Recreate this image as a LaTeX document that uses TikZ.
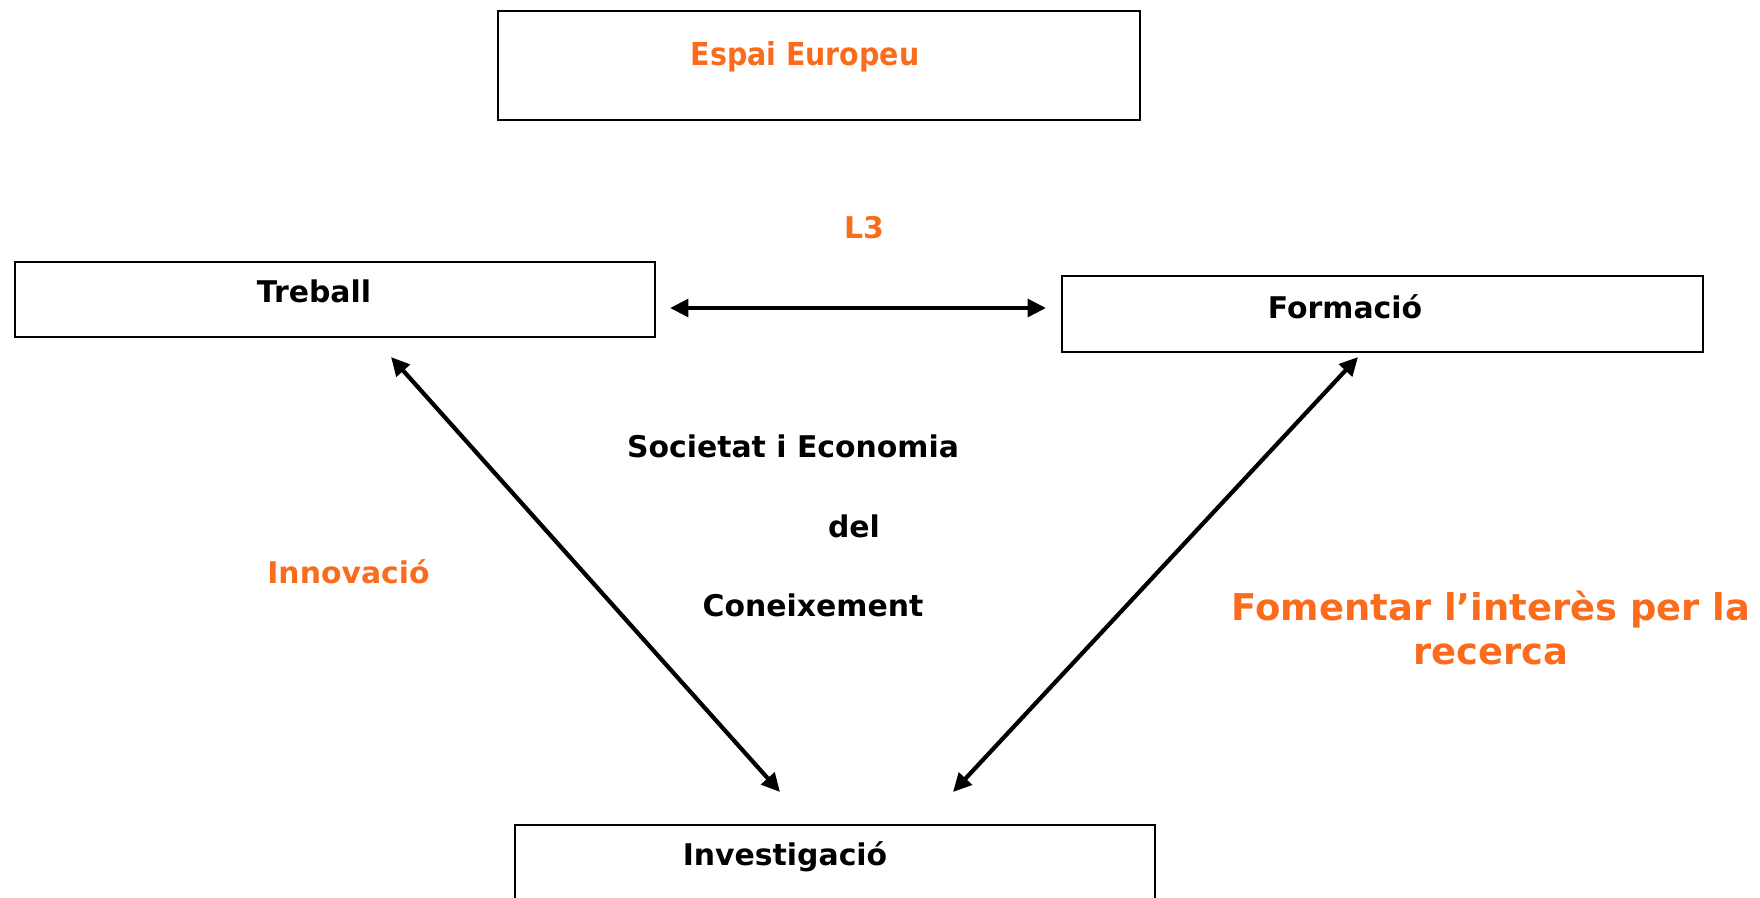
\documentclass[tikz,border=0pt]{standalone}
\usepackage{fontspec}
\setmainfont{DejaVu Sans}
\newfontfamily\narrowfont{DejaVu Sans Condensed}
\usetikzlibrary{arrows.meta}
\definecolor{taronja}{RGB}{250,108,28}

\begin{document}
\begin{tikzpicture}[x=0.02cm, y=-0.02cm,
    caixa/.style={draw, line width=0.85pt, inner sep=0pt},
    etiq/.style={font=\fontsize{17}{20}\selectfont\bfseries, anchor=base, inner sep=0pt},
    doble/.style={line width=2.4pt, {Triangle[length=10.5pt,width=10pt]}-{Triangle[length=10.5pt,width=10pt]}}]
        \useasboundingbox (0,0) rectangle (1760,897);

        % caixes
        \node[caixa, minimum width=12.84cm, minimum height=2.18cm] (espai) at (819,65.5) {};
        \node[caixa, minimum width=12.8cm, minimum height=1.5cm] (treball) at (335,299.5) {};
        \node[caixa, minimum width=12.82cm, minimum height=1.52cm] (formacio) at (1382.5,314) {};
        \node[caixa, minimum width=12.8cm, minimum height=1.8cm] (investigacio) at (835,870) {};

        % textos de les caixes
        \node[etiq, text=taronja, font=\narrowfont\fontsize{18}{21}\selectfont\bfseries] (tespai) at (805,65) {Espai Europeu};
        \node[etiq] (ttreball) at (314,302) {Treball};
        \node[etiq] (tformacio) at (1345,318) {Formació};
        \node[etiq] (tinvestigacio) at (785,865) {Investigació};

        % textos lliures
        \node[etiq, text=taronja] (l3) at (864,238) {L3};
        \node[etiq] (societat) at (793,457) {Societat i Economia};
        \node[etiq] (del) at (854,537) {del};
        \node[etiq] (coneixement) at (813,616) {Coneixement};
        \node[etiq, text=taronja] (innovacio) at (348.5,583) {Innovació};
        \node[etiq, text=taronja, font=\fontsize{21}{25}\selectfont\bfseries, align=center] (fomentar) at (1491,664) {Fomentar l’interès per la\\recerca};

        % fletxes
        \coordinate (a1) at (670,308);
        \coordinate (a2) at (1046,308);
        \coordinate (b1) at (391,357);
        \coordinate (b2) at (780,792);
        \coordinate (c1) at (1358,357);
        \coordinate (c2) at (953,792);
        \draw[doble] (a1) -- (a2);
        \draw[doble] (b1) -- (b2);
        \draw[doble] (c1) -- (c2);
\end{tikzpicture}
\end{document}
